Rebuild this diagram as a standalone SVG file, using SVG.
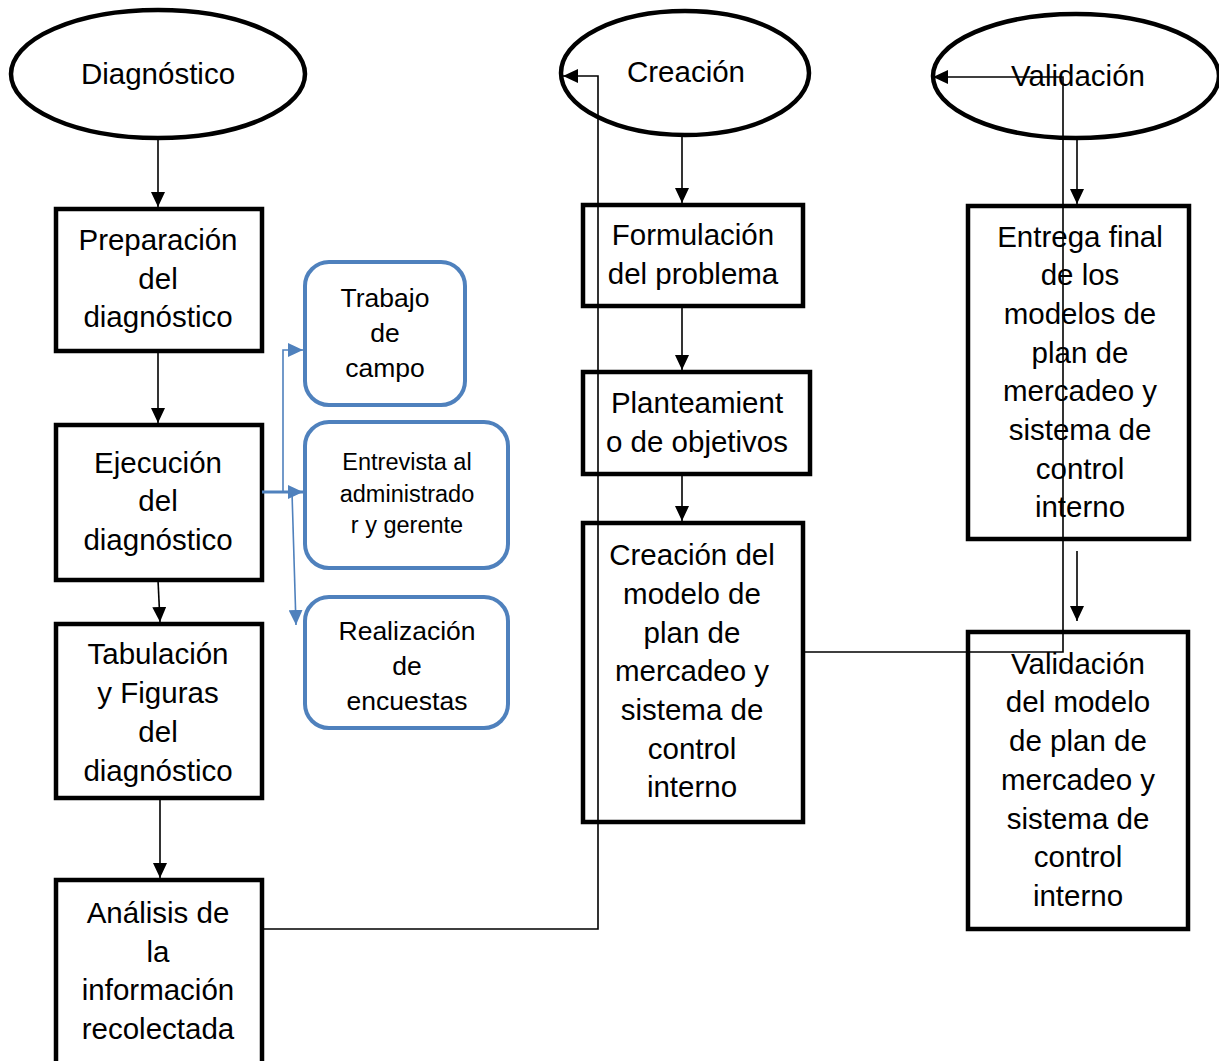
<svg xmlns="http://www.w3.org/2000/svg" width="1219" height="1061" viewBox="0 0 1219 1061">
<style>
.box{fill:#fff;stroke:#000;stroke-width:4.5}
.ell{fill:#fff;stroke:#000;stroke-width:4.5}
.blue{fill:#fff;stroke:#4F81BD;stroke-width:4}
.t{font-family:"Liberation Sans",Arial,sans-serif;font-size:29.5px;fill:#000;text-anchor:middle}
.ts{font-family:"Liberation Sans",Arial,sans-serif;font-size:26.5px;fill:#000;text-anchor:middle}
.tx{font-family:"Liberation Sans",Arial,sans-serif;font-size:23.5px;fill:#000;text-anchor:middle}
.c{fill:none;stroke:#000;stroke-width:1.6}
.cb{fill:none;stroke:#4F81BD;stroke-width:1.6}
</style>
<defs>
<marker id="a" markerUnits="userSpaceOnUse" markerWidth="16" markerHeight="14" refX="15" refY="7" orient="auto"><path d="M0,0 L15,7 L0,14 z" fill="#000"/></marker>
<marker id="b" markerUnits="userSpaceOnUse" markerWidth="16" markerHeight="14" refX="15" refY="7" orient="auto"><path d="M0,0 L15,7 L0,14 z" fill="#4F81BD"/></marker>
</defs>
<rect width="1219" height="1061" fill="#fff"/>
<g id="n-diagnostico"><ellipse class="ell" cx="158" cy="74" rx="147" ry="64"/><text class="t" x="158" y="84">Diagnóstico</text></g>
<g id="n-creacion"><ellipse class="ell" cx="685" cy="73" rx="124" ry="62"/><text class="t" x="686" y="82">Creación</text></g>
<g id="n-validacion"><ellipse class="ell" cx="1076" cy="76" rx="143" ry="62"/><text class="t" x="1078" y="86">Validación</text></g>
<g id="n-preparacion"><rect class="box" x="56" y="209" width="206" height="142"/><text class="t" x="158" y="250">Preparación</text><text class="t" x="158" y="289">del</text><text class="t" x="158" y="327">diagnóstico</text></g>
<g id="n-ejecucion"><rect class="box" x="56" y="425" width="206" height="155"/><text class="t" x="158" y="473">Ejecución</text><text class="t" x="158" y="511">del</text><text class="t" x="158" y="550">diagnóstico</text></g>
<g id="n-tabulacion"><rect class="box" x="56" y="624" width="206" height="174"/><text class="t" x="158" y="664">Tabulación</text><text class="t" x="158" y="703">y Figuras</text><text class="t" x="158" y="742">del</text><text class="t" x="158" y="781">diagnóstico</text></g>
<g id="n-analisis"><rect class="box" x="56" y="880" width="206" height="190"/><text class="t" x="158" y="923">Análisis de</text><text class="t" x="158" y="962">la</text><text class="t" x="158" y="1000">información</text><text class="t" x="158" y="1039">recolectada</text></g>
<g id="n-trabajo"><rect class="blue" x="305" y="262" width="160" height="143" rx="24"/><text class="ts" x="385" y="307">Trabajo</text><text class="ts" x="385" y="342">de</text><text class="ts" x="385" y="377">campo</text></g>
<g id="n-entrevista"><rect class="blue" x="305" y="422" width="203" height="146" rx="24"/><text class="tx" x="407" y="470">Entrevista al</text><text class="tx" x="407" y="502">administrado</text><text class="tx" x="407" y="533">r y gerente</text></g>
<g id="n-realizacion"><rect class="blue" x="305" y="597" width="203" height="131" rx="24"/><text class="ts" x="407" y="640">Realización</text><text class="ts" x="407" y="675">de</text><text class="ts" x="407" y="710">encuestas</text></g>
<g id="n-formulacion"><rect class="box" x="583" y="205" width="220" height="101"/><text class="t" x="693" y="245">Formulación</text><text class="t" x="693" y="284">del problema</text></g>
<g id="n-planteamiento"><rect class="box" x="583" y="372" width="227" height="102"/><text class="t" x="697" y="413">Planteamient</text><text class="t" x="697" y="452">o de objetivos</text></g>
<g id="n-creacion-modelo"><rect class="box" x="583" y="523" width="220" height="299"/><text class="t" x="692" y="565">Creación del</text><text class="t" x="692" y="604">modelo de</text><text class="t" x="692" y="643">plan de</text><text class="t" x="692" y="681">mercadeo y</text><text class="t" x="692" y="720">sistema de</text><text class="t" x="692" y="759">control</text><text class="t" x="692" y="797">interno</text></g>
<g id="n-entrega"><rect class="box" x="968" y="206" width="221" height="333"/><text class="t" x="1080" y="247">Entrega final</text><text class="t" x="1080" y="285">de los</text><text class="t" x="1080" y="324">modelos de</text><text class="t" x="1080" y="363">plan de</text><text class="t" x="1080" y="401">mercadeo y</text><text class="t" x="1080" y="440">sistema de</text><text class="t" x="1080" y="479">control</text><text class="t" x="1080" y="517">interno</text></g>
<g id="n-validacion-modelo"><rect class="box" x="968" y="632" width="220" height="297"/><text class="t" x="1078" y="674">Validación</text><text class="t" x="1078" y="712">del modelo</text><text class="t" x="1078" y="751">de plan de</text><text class="t" x="1078" y="790">mercadeo y</text><text class="t" x="1078" y="829">sistema de</text><text class="t" x="1078" y="867">control</text><text class="t" x="1078" y="906">interno</text></g>
<g id="connectors">
<line class="c" x1="158" y1="140" x2="158" y2="207" marker-end="url(#a)"/>
<line class="c" x1="158" y1="351" x2="158" y2="423" marker-end="url(#a)"/>
<line class="c" x1="158" y1="580" x2="160" y2="622" marker-end="url(#a)"/>
<line class="c" x1="160" y1="798" x2="160" y2="878" marker-end="url(#a)"/>
<polyline class="c" points="262,929 598,929 598,76 563,76" marker-end="url(#a)"/>
<line class="c" x1="682" y1="137" x2="682" y2="203" marker-end="url(#a)"/>
<line class="c" x1="682" y1="306" x2="682" y2="370" marker-end="url(#a)"/>
<line class="c" x1="682" y1="474" x2="682" y2="521" marker-end="url(#a)"/>
<line class="c" x1="1077" y1="140" x2="1077" y2="204" marker-end="url(#a)"/>
<line class="c" x1="1077" y1="551" x2="1077" y2="621" marker-end="url(#a)"/>
<polyline class="c" points="803,652 1063,652 1063,77 933,77" marker-end="url(#a)"/>
<line x1="262" y1="492" x2="303" y2="492" stroke="#4F81BD" stroke-width="3" marker-end="url(#b)"/>
<polyline class="cb" points="283,492 283,350 303,350" marker-end="url(#b)"/>
<line class="cb" x1="292" y1="492" x2="296" y2="625" marker-end="url(#b)"/>
</g>
</svg>
